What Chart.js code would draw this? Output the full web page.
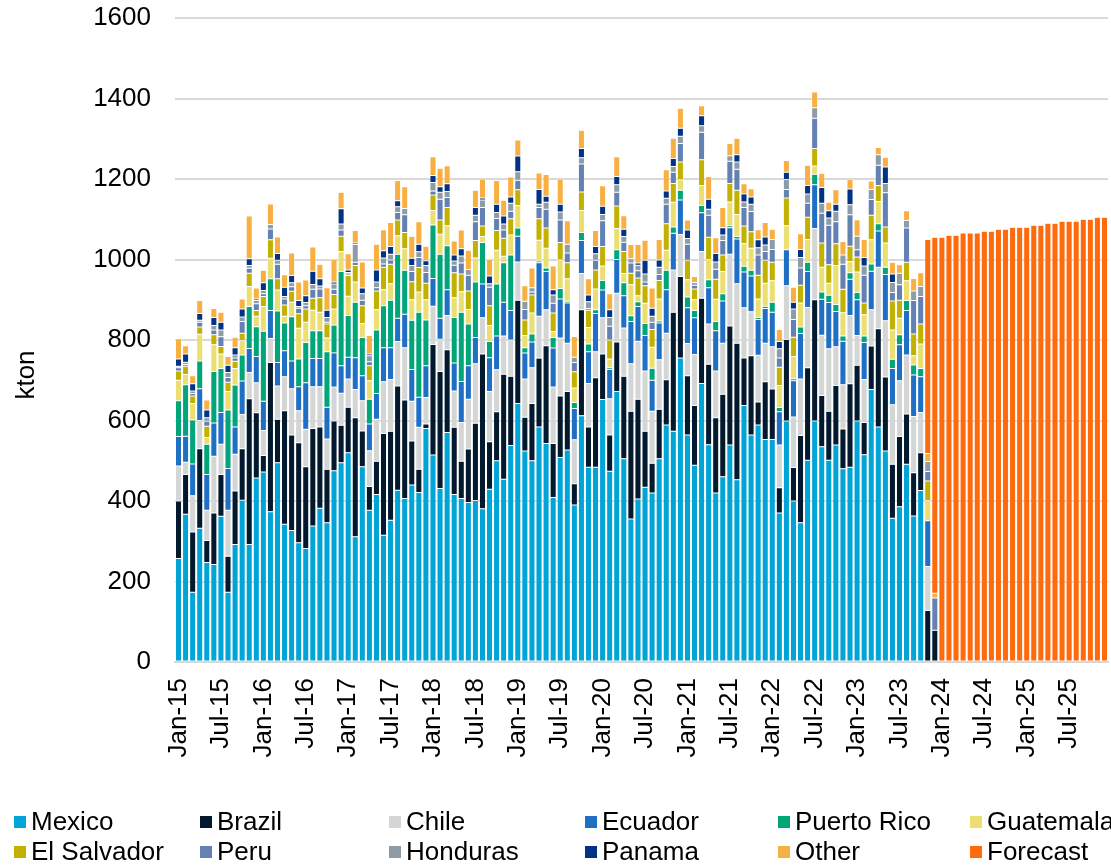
<!DOCTYPE html>
<html>
<head>
<meta charset="utf-8">
<script src="https://cdn.jsdelivr.net/npm/chart.js@4.4.1/dist/chart.umd.min.js"></script>
<style>
  body { margin: 0; background: #fff; overflow: hidden; }
  .omotac { position: relative; width: 1111px; height: 865px; overflow: hidden; }
  #grafik { position: absolute; left: 0; top: 0; }
  .legenda { position: absolute; left: 0; top: 0; width: 1111px; height: 865px; pointer-events: none; }
  .stavka { position: absolute; display: flex; align-items: center; white-space: nowrap;
            font-family: "Liberation Sans", Arial, sans-serif; font-size: 26px; color: #000; }
  .kvadrat { width: 12px; height: 12px; margin-right: 5px; margin-top: 2px; }
  .naslovY { position: absolute; left: 25px; top: 375px; transform: translate(-50%, -50%) rotate(-90deg);
             font-family: "Liberation Sans", Arial, sans-serif; font-size: 26px; color: #000; white-space: nowrap; }
</style>
</head>
<body>
<div class="omotac">
  <canvas id="grafik" width="1111" height="865"></canvas>
  <div class="legenda" id="legenda"></div>
  <div class="naslovY" id="naslovY"></div>
</div>
<script>
// mjeseci Jan-15 .. Dec-25
const months = ["Jan","Feb","Mar","Apr","May","Jun","Jul","Aug","Sep","Oct","Nov","Dec"];
const years = ["15","16","17","18","19","20","21","22","23","24","25"];
const tickLabels = ["Jan-15","Jul-15","Jan-16","Jul-16","Jan-17","Jul-17","Jan-18","Jul-18","Jan-19","Jul-19",
  "Jan-20","Jul-20","Jan-21","Jul-21","Jan-22","Jul-22","Jan-23","Jul-23","Jan-24","Jul-24","Jan-25","Jul-25"];
const yTicks = [0, 200, 400, 600, 800, 1000, 1200, 1400, 1600];
const yTitle = "kton";

// actual values Jan-15 .. Dec-23 (kton)
const mexico = [257,367,173,332,247,242,362,173,292,402,292,457,472,373,495,342,327,296,282,338,382,
  346,475,495,520,311,485,377,416,315,352,427,406,440,421,580,514,431,570,416,406,396,
  401,381,429,500,454,538,642,524,500,584,543,409,508,527,390,612,484,484,652,474,672,
  505,355,405,434,420,505,589,573,755,564,489,692,540,420,460,539,453,637,564,589,553,553,
  370,599,400,346,501,599,535,501,539,480,484,599,515,677,584,524,357,386,491,363,426,0,0];
const brazil = [143,99,150,198,55,128,104,90,133,128,362,162,41,371,108,282,237,249,203,242,202,
  133,124,93,113,296,89,59,83,253,221,259,245,109,58,11,275,291,206,167,93,133,
  192,384,118,122,261,172,257,84,142,171,243,134,153,145,53,263,100,222,113,90,123,
  205,268,248,139,74,123,112,296,203,147,148,212,200,187,205,296,339,118,197,57,143,125,
  63,202,83,217,230,301,127,122,148,99,207,138,80,108,244,184,134,174,125,107,94,128,79];
const chile = [87,30,90,70,75,141,75,114,91,85,65,75,62,60,83,85,115,79,93,104,100,
  75,84,80,70,70,75,89,104,128,129,110,130,99,104,66,95,80,85,90,96,124,
  148,90,125,104,95,90,95,95,89,104,89,140,144,120,109,90,108,65,90,90,121,
  120,118,144,150,129,123,116,105,104,80,127,116,100,116,127,178,148,125,109,116,96,105,
  106,134,126,140,150,177,150,155,96,110,170,74,107,90,153,140,148,139,147,140,100,109,0];
const ecuador = [73,65,79,79,89,83,79,104,68,83,60,65,73,69,58,64,69,60,116,70,70,
  79,85,68,54,79,62,66,64,85,79,58,83,79,75,79,69,52,64,70,102,83,
  65,84,84,84,84,73,64,65,64,133,95,97,97,100,78,82,79,95,69,73,84,
  80,105,86,88,77,91,108,91,86,89,91,96,90,100,105,66,111,89,89,89,86,86,
  83,89,90,113,89,109,89,115,88,108,90,89,92,96,90,115,90,89,110,103,89,114,0];
const puertoRico = [89,128,109,69,75,128,109,145,104,65,104,74,174,79,128,69,110,69,100,69,69,
  138,69,234,104,138,95,62,158,104,118,159,109,122,211,114,133,159,109,113,172,104,
  138,103,40,129,98,138,20,13,20,4,9,26,26,4,15,20,19,9,24,4,24,
  32,14,12,30,30,5,48,16,24,27,18,18,20,23,18,5,6,14,14,5,6,25,
  10,0,5,16,23,26,18,18,17,13,16,18,16,18,18,18,23,25,25,25,20,0,0];
const guatemala = [51,25,41,66,17,66,36,46,41,36,50,26,61,51,52,17,36,76,50,51,46,
  34,40,50,48,50,35,46,50,40,41,46,54,51,50,50,36,50,50,49,51,36,
  60,15,40,84,16,50,56,30,52,52,49,15,71,56,36,55,41,52,36,22,53,
  23,77,15,50,52,55,50,61,26,43,27,50,50,55,55,59,55,56,55,46,57,53,
  55,60,55,60,57,20,62,30,97,58,28,51,53,60,55,60,73,41,49,23,61,50,0];
const elSalvador = [23,21,19,18,28,25,19,23,18,18,33,14,25,46,28,28,27,36,33,30,36,
  35,36,38,51,41,44,37,47,56,48,39,40,45,61,41,38,35,45,62,44,46,
  43,26,49,49,45,40,39,39,45,53,50,46,43,40,40,46,43,47,48,47,56,
  55,29,44,44,44,46,66,47,44,48,27,64,55,50,41,46,60,44,41,59,57,46,
  45,69,48,44,55,44,60,46,54,58,38,37,29,61,40,40,72,45,46,54,50,49,0];
const peru = [8,4,6,12,12,12,24,12,8,29,12,17,7,27,36,15,11,14,8,22,22,
  4,13,15,4,8,14,10,8,8,11,19,44,25,25,27,10,52,25,19,27,39,
  47,46,46,30,20,19,24,26,7,28,47,24,56,24,23,69,4,24,64,34,34,
  23,25,18,9,18,15,48,28,46,40,9,68,55,25,36,55,52,46,50,50,22,32,
  23,21,44,43,35,75,74,98,55,62,78,18,69,39,50,85,21,38,85,83,68,23,80];
const honduras = [4,6,6,5,9,11,17,12,8,11,7,8,8,11,10,6,10,4,8,12,7,
  12,13,15,4,44,16,15,14,15,14,14,16,15,14,17,21,17,15,10,18,14,
  16,19,9,15,15,20,21,20,11,8,17,21,20,22,13,16,17,16,16,22,19,
  14,11,14,20,15,18,15,14,18,14,7,16,15,18,14,14,18,14,18,18,16,25,
  23,25,26,26,23,26,25,18,26,23,25,34,23,25,26,23,25,29,19,24,25,25,0];
const panama = [18,20,18,17,19,20,19,18,18,20,17,4,19,0,17,23,18,15,17,33,18,
  18,5,38,6,4,14,4,30,18,19,15,0,18,19,12,18,14,19,15,18,0,
  19,5,19,20,20,15,39,0,0,37,15,13,19,0,0,23,17,18,20,19,20,
  18,0,5,34,20,18,18,20,20,21,0,25,25,21,18,0,18,20,18,20,20,0,
  18,18,17,20,21,0,39,18,17,0,39,0,21,0,0,41,21,0,0,0,0,0,0];
const other = [50,21,20,32,25,22,25,22,26,25,106,27,31,51,41,31,56,46,39,60,36,
  56,56,41,40,31,65,46,64,52,60,50,54,55,56,36,46,46,45,35,46,48,
  43,47,41,59,39,50,40,39,49,41,54,59,63,58,52,45,40,40,51,40,49,
  34,35,46,50,50,51,53,50,50,25,15,25,56,39,50,30,41,25,21,25,36,25,
  30,29,37,39,50,39,35,21,36,34,24,41,45,21,18,24,29,21,24,31,34,20,12];
// forecast from Nov-23
const forecast = [532,884,1055,1060,1060,1066,1066,1066,1070,1070,1075,1075,
  1080,1080,1080,1085,1085,1090,1090,1095,1095,1095,1100,1100,1105,1105];
const forecastStart = 106;

const seriesNames = ["Mexico","Brazil","Chile","Ecuador","Puerto Rico","Guatemala",
  "El Salvador","Peru","Honduras","Panama","Other","Forecast"];
const seriesColors = ["#00a4d6","#031a2e","#d4d5d5","#1f6fc4","#00a57a","#ebdf72",
  "#c2b100","#6481b3","#8e9ca8","#013283","#f8b042","#ff6a0d"];

let categories = [];
years.forEach(g => months.forEach(m => categories.push(m + "-" + g)));

function rasiri(niz, pocetak) {
  let out = new Array(categories.length).fill(null);
  niz.forEach((v, i) => { out[pocetak + i] = v === 0 ? null : v; });
  return out;
}

const sveSerije = [mexico, brazil, chile, ecuador, puertoRico, guatemala, elSalvador,
  peru, honduras, panama, other];

let datasets = sveSerije.map((s, i) => ({
  label: seriesNames[i],
  data: rasiri(s, 0),
  backgroundColor: seriesColors[i]
}));
datasets.push({ label: seriesNames[11], data: rasiri(forecast, forecastStart), backgroundColor: seriesColors[11] });

datasets.forEach(d => {
  d.borderColor = "#ffffff";
  d.borderWidth = 0.5;
  d.borderSkipped = false;
  d.barPercentage = 0.86;
  d.categoryPercentage = 1.0;
});

const font = { family: "'Liberation Sans', Arial, sans-serif", size: 26 };

new Chart(document.getElementById("grafik"), {
  type: "bar",
  data: { labels: categories, datasets: datasets },
  options: {
    responsive: false,
    animation: false,
    layout: { padding: { top: 18, right: 3, bottom: 83, left: 0 } },
    plugins: { legend: { display: false }, tooltip: { enabled: false } },
    scales: {
      x: {
        stacked: true,
        grid: { display: false, drawTicks: false },
        border: { display: true, color: "#d9d9d9", width: 2 },
        ticks: {
          autoSkip: false, minRotation: 90, maxRotation: 90, padding: 16,
          color: "#000", font: font,
          callback: (v, i) => tickLabels.includes(categories[i]) ? categories[i] : null
        },
        afterFit: s => { s.height = 120; s.paddingLeft = 0; s.paddingRight = 0; }
      },
      y: {
        stacked: true,
        min: yTicks[0], max: yTicks[yTicks.length - 1],
        afterBuildTicks: s => { s.ticks = yTicks.map(v => ({ value: v })); },
        ticks: { padding: 24, color: "#000", font: font, callback: v => String(v) },
        grid: { color: "#d9d9d9", lineWidth: 2, drawTicks: false },
        border: { display: false },
        afterFit: s => { s.width = 175; s.paddingTop = 0; s.paddingBottom = 0; }
      }
    }
  }
});

document.getElementById("naslovY").innerHTML = yTitle;

// legenda, 2 reda po 6
const kolone = [14, 200, 389, 585, 778, 970];
const redovi = [821, 851];
let legenda = document.getElementById("legenda");
seriesNames.forEach((ime, i) => {
  let st = document.createElement("div");
  st.className = "stavka";
  st.style.left = kolone[i % 6] + "px";
  st.style.top = (redovi[Math.floor(i / 6)] - 15) + "px";
  st.style.height = "30px";
  let kv = document.createElement("span");
  kv.className = "kvadrat";
  kv.style.background = seriesColors[i];
  st.appendChild(kv);
  let t = document.createElement("span");
  t.innerHTML = ime;
  st.appendChild(t);
  legenda.appendChild(st);
});
</script>
</body>
</html>
